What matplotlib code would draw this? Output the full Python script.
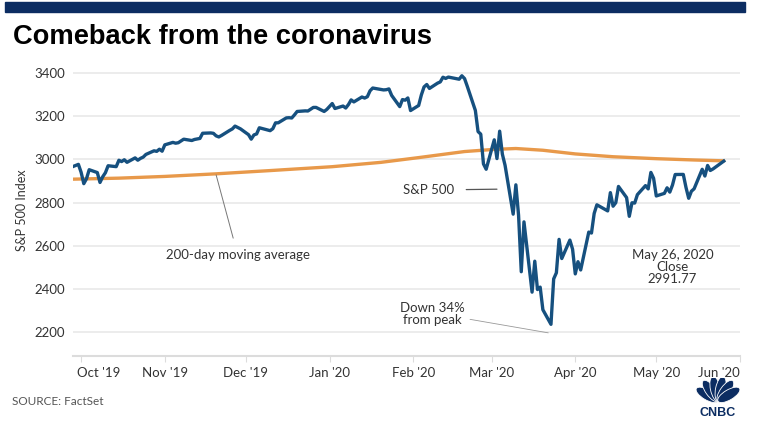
import math

import matplotlib
matplotlib.use("Agg")
import matplotlib.pyplot as plt
import matplotlib.transforms as mtransforms
from matplotlib.patches import Rectangle, Ellipse
from matplotlib import font_manager
import pandas as pd

# S&P 500 daily close
sp_dates = [
    "2019-09-27", "2019-09-30",
    "2019-10-01", "2019-10-02", "2019-10-03", "2019-10-04", "2019-10-07", "2019-10-08",
    "2019-10-09", "2019-10-10", "2019-10-11", "2019-10-14", "2019-10-15", "2019-10-16",
    "2019-10-17", "2019-10-18", "2019-10-21", "2019-10-22", "2019-10-23", "2019-10-24",
    "2019-10-25", "2019-10-28", "2019-10-29", "2019-10-30", "2019-10-31",
    "2019-11-01", "2019-11-04", "2019-11-05", "2019-11-06", "2019-11-07", "2019-11-08",
    "2019-11-11", "2019-11-12", "2019-11-13", "2019-11-14", "2019-11-15", "2019-11-18",
    "2019-11-19", "2019-11-20", "2019-11-21", "2019-11-22", "2019-11-25", "2019-11-26",
    "2019-11-27", "2019-11-29",
    "2019-12-02", "2019-12-03", "2019-12-04", "2019-12-05", "2019-12-06", "2019-12-09",
    "2019-12-10", "2019-12-11", "2019-12-12", "2019-12-13", "2019-12-16", "2019-12-17",
    "2019-12-18", "2019-12-19", "2019-12-20", "2019-12-23", "2019-12-24", "2019-12-26",
    "2019-12-27", "2019-12-30", "2019-12-31",
    "2020-01-02", "2020-01-03", "2020-01-06", "2020-01-07", "2020-01-08", "2020-01-09",
    "2020-01-10", "2020-01-13", "2020-01-14", "2020-01-15", "2020-01-16", "2020-01-17",
    "2020-01-21", "2020-01-22", "2020-01-23", "2020-01-24", "2020-01-27", "2020-01-28",
    "2020-01-29", "2020-01-30", "2020-01-31",
    "2020-02-03", "2020-02-04", "2020-02-05", "2020-02-06", "2020-02-07", "2020-02-10",
    "2020-02-11", "2020-02-12", "2020-02-13", "2020-02-14", "2020-02-18", "2020-02-19",
    "2020-02-20", "2020-02-21", "2020-02-24", "2020-02-25", "2020-02-26", "2020-02-27",
    "2020-02-28",
    "2020-03-02", "2020-03-03", "2020-03-04", "2020-03-05", "2020-03-06", "2020-03-09",
    "2020-03-10", "2020-03-11", "2020-03-12", "2020-03-13", "2020-03-16", "2020-03-17",
    "2020-03-18", "2020-03-19", "2020-03-20", "2020-03-23", "2020-03-24", "2020-03-25",
    "2020-03-26", "2020-03-27", "2020-03-30", "2020-03-31",
    "2020-04-01", "2020-04-02", "2020-04-03", "2020-04-06", "2020-04-07", "2020-04-08",
    "2020-04-09", "2020-04-13", "2020-04-14", "2020-04-15", "2020-04-16", "2020-04-17",
    "2020-04-20", "2020-04-21", "2020-04-22", "2020-04-23", "2020-04-24", "2020-04-27",
    "2020-04-28", "2020-04-29", "2020-04-30",
    "2020-05-01", "2020-05-04", "2020-05-05", "2020-05-06", "2020-05-07", "2020-05-08",
    "2020-05-11", "2020-05-12", "2020-05-13", "2020-05-14", "2020-05-15", "2020-05-18",
    "2020-05-19", "2020-05-20", "2020-05-21", "2020-05-22", "2020-05-26",
]
sp_close = [
    2961.8, 2976.7,
    2940.3, 2887.6, 2910.6, 2952.0, 2938.8, 2893.1,
    2919.4, 2938.1, 2970.3, 2966.2, 2995.7, 2989.7,
    2998.0, 2986.2, 3006.7, 2996.0, 3004.5, 3010.3,
    3022.6, 3039.4, 3036.9, 3046.8, 3037.6,
    3066.9, 3078.3, 3074.6, 3076.8, 3085.2, 3093.1,
    3087.0, 3091.8, 3094.0, 3096.6, 3120.5, 3122.0,
    3120.2, 3108.5, 3103.5, 3110.3, 3133.6, 3140.5,
    3153.6, 3141.0,
    3113.9, 3093.2, 3112.8, 3117.4, 3145.9, 3136.0,
    3132.5, 3141.6, 3168.6, 3168.8, 3191.5, 3192.5,
    3191.1, 3205.4, 3221.2, 3224.0, 3223.4, 3239.9,
    3240.0, 3221.3, 3230.8,
    3257.9, 3234.9, 3246.3, 3237.2, 3253.1, 3274.7,
    3265.4, 3288.1, 3283.2, 3289.3, 3316.8, 3329.6,
    3320.8, 3321.8, 3325.5, 3295.5, 3243.6, 3276.2,
    3273.4, 3283.7, 3225.5,
    3248.9, 3297.6, 3334.7, 3345.8, 3327.7, 3352.1,
    3357.8, 3379.5, 3373.9, 3380.2, 3370.3, 3386.2,
    3373.2, 3337.8, 3225.9, 3128.2, 3116.4, 2978.8,
    2954.2,
    3090.2, 3003.4, 3130.1, 3023.9, 2972.4, 2746.6,
    2882.2, 2741.4, 2480.6, 2711.0, 2386.1, 2529.2,
    2398.1, 2409.4, 2304.9, 2237.4, 2447.3, 2475.6,
    2630.1, 2541.5, 2626.7, 2584.6,
    2470.5, 2526.9, 2488.7, 2663.7, 2659.4, 2750.0,
    2789.8, 2761.6, 2846.1, 2783.4, 2799.6, 2874.6,
    2823.2, 2736.6, 2799.3, 2797.8, 2836.7, 2878.5,
    2863.4, 2939.5, 2912.4,
    2830.7, 2842.7, 2868.4, 2848.4, 2881.2, 2929.8,
    2930.3, 2870.1, 2820.0, 2852.5, 2863.7, 2953.9,
    2922.9, 2971.6, 2948.5, 2955.5, 2991.8,
]

# 200-day moving average
ma_dates = [
    "2019-09-27", "2019-10-15", "2019-11-01", "2019-11-20", "2019-12-10",
    "2020-01-02", "2020-01-20", "2020-02-03", "2020-02-20", "2020-03-02",
    "2020-03-10", "2020-03-20", "2020-04-01", "2020-04-15", "2020-05-01",
    "2020-05-15", "2020-05-26",
]
ma_values = [
    2908, 2913, 2921, 2933, 2948,
    2966, 2986, 3008, 3036, 3046,
    3050, 3042, 3025, 3012, 3003,
    2997, 2993,
]

month_ticks = ["2019-10-01", "2019-11-01", "2019-12-01", "2020-01-01", "2020-02-01",
               "2020-03-01", "2020-04-01", "2020-05-01", "2020-06-01"]
month_labels = ["Oct '19", "Nov '19", "Dec '19", "Jan '20", "Feb '20",
                "Mar '20", "Apr '20", "May '20", "Jun '20"]
y_ticks = [2200, 2400, 2600, 2800, 3000, 3200, 3400]

BLUE = "#16507f"
ORANGE = "#e8994a"
NAVY = "#0c2d62"
GRID = "#e9e9e9"
TEXT = "#333333"

names = {f.name for f in font_manager.fontManager.ttflist}
body_font = "Lato" if "Lato" in names else "DejaVu Sans"
plt.rcParams["font.family"] = [body_font, "DejaVu Sans"]

W, H = 761, 448
fig = plt.figure(figsize=(W / 100, H / 100), dpi=100)
ax = fig.add_axes([73 / W, 1 - 356 / H, (740 - 73) / W, (356 - 65) / H])

x_sp = pd.to_datetime(sp_dates)
x_ma = pd.to_datetime(ma_dates)
ax.plot(x_ma, ma_values, color=ORANGE, lw=2.4, solid_capstyle="round", zorder=3)
ax.plot(x_sp, sp_close, color=BLUE, lw=2.4, solid_joinstyle="round", zorder=4)

ax.set_xlim(pd.Timestamp("2019-09-28"), pd.Timestamp("2020-06-01"))
ax.set_ylim(2091, 3436)
ax.set_yticks(y_ticks)
ax.set_yticklabels([str(v) for v in y_ticks])
ax.grid(axis="y", color=GRID, lw=1.2)
ax.set_axisbelow(True)
for s in ["top", "right", "left"]:
    ax.spines[s].set_visible(False)
ax.spines["bottom"].set_color("#dcdcdc")
ax.spines["bottom"].set_linewidth(1.5)
ax.tick_params(axis="y", length=0, pad=6, labelsize=9.5, labelcolor=TEXT)
ax.tick_params(axis="x", length=4, color="#dcdcdc", pad=4, labelsize=9.5, labelcolor=TEXT)

ax.set_xticks(pd.to_datetime(month_ticks))
ax.set_xticklabels(month_labels)
tl = ax.get_xticklabels()
tl[0].set_ha("left")
tl[0].set_transform(tl[0].get_transform() +
                    mtransforms.ScaledTranslation(-4 / 100, 0, fig.dpi_scale_trans))
tl[-1].set_ha("right")
ax.set_ylabel("S&P 500 Index", fontsize=9, color=TEXT, labelpad=4)

# annotations
ax.annotate("S&P 500", xy=(pd.Timestamp("2020-03-03"), 2862),
            xytext=(pd.Timestamp("2020-02-16"), 2858), fontsize=9.5, color=TEXT,
            ha="right", va="center",
            arrowprops=dict(arrowstyle="-", color="#555555", lw=0.9, shrinkA=7, shrinkB=0))
ax.annotate("200-day moving average", xy=(pd.Timestamp("2019-11-20"), 2928),
            xytext=(pd.Timestamp("2019-11-28"), 2558), fontsize=9.5, color=TEXT,
            ha="center", va="center",
            arrowprops=dict(arrowstyle="-", color="#777777", lw=0.7, shrinkA=6, shrinkB=0))
ax.annotate("Down 34%\nfrom peak", xy=(pd.Timestamp("2020-03-22"), 2198),
            xytext=(pd.Timestamp("2020-02-08"), 2287), fontsize=9.5, color=TEXT,
            ha="center", va="center", linespacing=1.0,
            arrowprops=dict(arrowstyle="-", color="#999999", lw=0.6, shrinkA=2, shrinkB=0,
                            relpos=(1.0, 0.3)))
ax.text(pd.Timestamp("2020-05-07"), 2503, "May 26, 2020\nClose\n2991.77", fontsize=9.5,
        color=TEXT, ha="center", va="center", linespacing=1.0)

# header bar and title
fig.patches.append(Rectangle((5 / W, 1 - 12 / H), 740 / W, 10 / H,
                             transform=fig.transFigure, color=NAVY, zorder=0))
fig.text(13 / W, 1 - 37 / H, "Comeback from the coronavirus", fontsize=19.6,
         fontweight="bold", family="Liberation Sans", color="black", va="center", ha="left")
fig.text(12 / W, 1 - 401 / H, "SOURCE: FactSet", fontsize=8.5, color="#555555",
         va="center", ha="left")

# CNBC peacock mark
lax = fig.add_axes([693 / W, 1 - 416 / H, 50 / W, 38 / H])
lax.set_xlim(-1.2, 1.2)
lax.set_ylim(-0.75, 1.05)
lax.axis("off")
for ang in [-60, -36, -12, 12, 36, 60]:
    r = math.radians(ang)
    cx, cy = 0.6 * math.sin(r), 0.6 * math.cos(r) - 0.05
    lax.add_patch(Ellipse((cx, cy), 0.48, 1.2, angle=-ang, facecolor=NAVY,
                          edgecolor="white", lw=0.6))
lax.text(0, -0.6, "CNBC", fontsize=9, fontweight="bold", family="Liberation Sans",
         color=NAVY, ha="center", va="center")

fig.savefig("out.png", dpi=100)
